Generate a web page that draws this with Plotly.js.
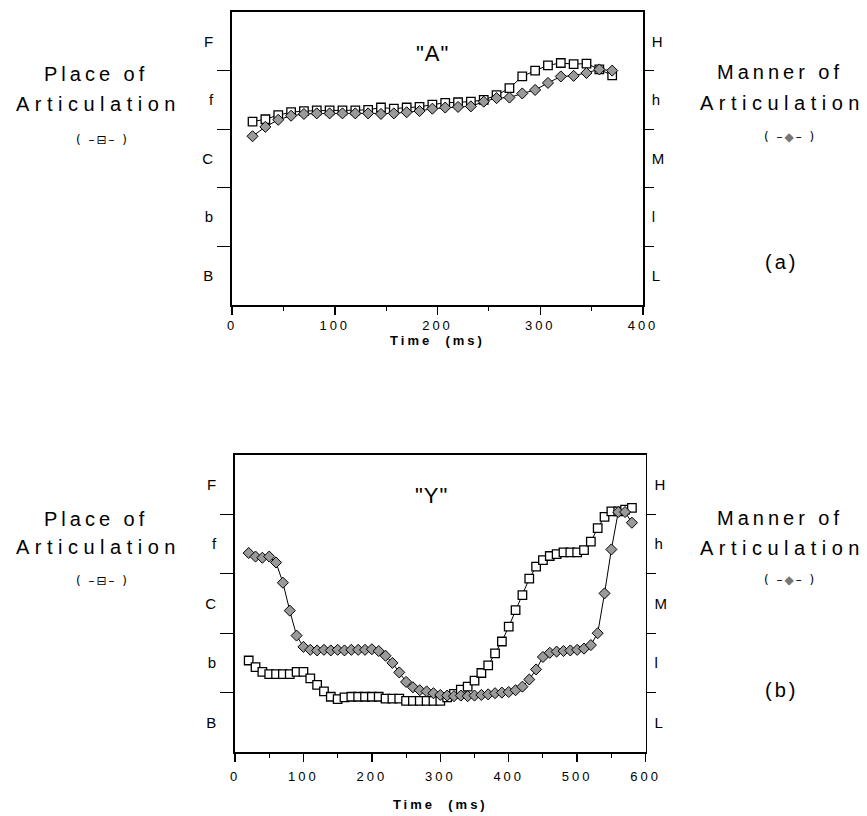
<!DOCTYPE html>
<html>
<head>
<meta charset="utf-8">
<script src="https://cdn.plot.ly/plotly-3.0.1.min.js"></script>
<style>
  html, body { margin: 0; padding: 0; background: #fff; }
  #chart { width: 867px; height: 816px; }
  .xtick text, .x2tick text { letter-spacing: 3px; }
  .xtitle, .x2title { letter-spacing: 3px; }
</style>
</head>
<body>
<div id="chart"></div>
<script>
// ---- Panel (a): "A" ----
const timeA = [20, 32.5, 45, 57.5, 70, 82.5, 95, 107.5, 120, 132.5, 145, 157.5, 170, 182.5, 195,
  207.5, 220, 232.5, 245, 257.5, 270, 282.5, 295, 307.5, 320, 332.5, 345, 357.5, 370];
const placeA = [3.13, 3.17, 3.24, 3.29, 3.31, 3.32, 3.32, 3.32, 3.32, 3.33, 3.37, 3.35, 3.37, 3.38, 3.42,
  3.45, 3.46, 3.47, 3.50, 3.58, 3.70, 3.90, 4.00, 4.09, 4.13, 4.11, 4.12, 4.02, 3.92];
const mannerA = [2.88, 3.04, 3.16, 3.23, 3.26, 3.27, 3.27, 3.27, 3.27, 3.27, 3.26, 3.27, 3.29, 3.31, 3.35,
  3.37, 3.38, 3.39, 3.47, 3.53, 3.54, 3.61, 3.67, 3.79, 3.90, 3.91, 3.96, 4.02, 4.00];

// ---- Panel (b): "Y" ----
const timeY = [20, 30, 40, 50, 60, 70, 80, 90, 100, 110, 120, 130, 140, 150, 160, 170, 180, 190, 200,
  210, 220, 230, 240, 250, 260, 270, 280, 290, 300, 310, 320, 330, 340, 350, 360, 370, 380, 390, 400,
  410, 420, 430, 440, 450, 460, 470, 480, 490, 500, 510, 520, 530, 540, 550, 560, 570, 580];
const placeY = [1.54, 1.43, 1.35, 1.31, 1.31, 1.31, 1.31, 1.35, 1.35, 1.24, 1.13, 1.02, 0.93, 0.89, 0.92,
  0.93, 0.93, 0.93, 0.93, 0.93, 0.90, 0.90, 0.90, 0.86, 0.86, 0.86, 0.86, 0.86, 0.86, 0.92, 0.98, 1.05,
  1.10, 1.20, 1.33, 1.46, 1.66, 1.86, 2.11, 2.39, 2.64, 2.92, 3.12, 3.23, 3.30, 3.33, 3.36, 3.36, 3.36,
  3.40, 3.54, 3.77, 3.96, 4.05, 4.05, 4.08, 4.11];
const mannerY = [3.35, 3.29, 3.27, 3.29, 3.19, 2.85, 2.38, 1.96, 1.77, 1.72, 1.71, 1.72, 1.71, 1.72, 1.71,
  1.72, 1.72, 1.72, 1.73, 1.70, 1.62, 1.50, 1.34, 1.18, 1.09, 1.04, 1.02, 0.99, 0.96, 0.95, 0.94, 0.95,
  0.94, 0.95, 0.96, 0.97, 0.99, 1.00, 1.01, 1.04, 1.10, 1.22, 1.39, 1.60, 1.67, 1.69, 1.70, 1.71, 1.72,
  1.74, 1.80, 2.00, 2.67, 3.41, 4.04, 4.04, 3.86];

// ---- Axis labels ----
const placeLabels = ['B', 'b', 'C', 'f', 'F'];
const mannerLabels = ['L', 'l', 'M', 'h', 'H'];
const bandCenters = [0.5, 1.5, 2.5, 3.5, 4.5];
const bandEdges = [1, 2, 3, 4];
const ticksA = [0, 100, 200, 300, 400];
const minorA = [50, 150, 250, 350];
const ticksY = [0, 100, 200, 300, 400, 500, 600];
const minorY = [50, 150, 250, 350, 450, 550];

const FONT = 'Liberation Sans, Arial, Helvetica, sans-serif';

function squareTrace(x, y, xa, ya) {
  return {
    x: x, y: y, xaxis: xa, yaxis: ya, type: 'scatter', mode: 'lines+markers',
    line: { color: '#000', width: 1 },
    marker: { symbol: 'square', size: 8.5, color: '#fff', line: { color: '#000', width: 1.3 } },
    showlegend: false, hoverinfo: 'skip'
  };
}
function diamondTrace(x, y, xa, ya) {
  return {
    x: x, y: y, xaxis: xa, yaxis: ya, type: 'scatter', mode: 'lines+markers',
    line: { color: '#000', width: 1 },
    marker: { symbol: 'diamond', size: 8.5, color: '#9a9a9a', line: { color: '#000', width: 1 } },
    showlegend: false, hoverinfo: 'skip'
  };
}

const data = [
  squareTrace(timeA, placeA, 'x', 'y'),
  diamondTrace(timeA, mannerA, 'x', 'y3'),
  squareTrace(timeY, placeY, 'x2', 'y2'),
  diamondTrace(timeY, mannerY, 'x2', 'y4')
];

function xAxis(domain, anchor, range, tv, mv, standoff, labelOff) {
  return {
    domain: domain, anchor: anchor, range: range,
    tickmode: 'array', tickvals: tv, ticktext: tv.map(String),
    ticks: 'outside', ticklen: 8, tickwidth: 1.5, tickcolor: '#000',
    ticklabelstandoff: labelOff,
    minor: { tickmode: 'array', tickvals: mv, ticks: 'outside', ticklen: 4, tickwidth: 1, tickcolor: '#000' },
    showline: true, linecolor: '#000', linewidth: 1.8, mirror: true,
    showgrid: false, zeroline: false, fixedrange: true,
    tickfont: { family: FONT, size: 13, color: '#000' },
    title: { text: 'Time\u00a0\u00a0(ms)', standoff: standoff, font: { family: FONT, size: 13, color: '#000', weight: 'bold' } }
  };
}
function leftAxis(domain, anchor) {
  return {
    domain: domain, anchor: anchor, range: [0, 5],
    tickmode: 'array', tickvals: bandCenters, ticktext: placeLabels,
    ticks: 'outside', ticklen: 14, tickcolor: 'rgba(0,0,0,0)',
    minor: { tickmode: 'array', tickvals: bandEdges, ticks: 'outside', ticklen: 13, tickwidth: 1.2, tickcolor: '#000' },
    showline: true, linecolor: '#000', linewidth: 1.8,
    showgrid: false, zeroline: false, fixedrange: true,
    tickfont: { family: FONT, size: 15, color: '#000' }
  };
}
function rightAxis(over, anchor) {
  return {
    overlaying: over, side: 'right', anchor: anchor, range: [0, 5],
    tickmode: 'array', tickvals: bandCenters, ticktext: mannerLabels,
    ticks: 'outside', ticklen: 4, tickcolor: 'rgba(0,0,0,0)',
    minor: { tickmode: 'array', tickvals: bandEdges, ticks: 'outside', ticklen: 9, tickwidth: 1.2, tickcolor: '#000' },
    showline: true, linecolor: '#000', linewidth: 1.8,
    showgrid: false, zeroline: false, fixedrange: true,
    tickfont: { family: FONT, size: 15, color: '#000' }
  };
}

function ann(text, x, y, size, spacing, extra) {
  return Object.assign({
    xref: 'paper', yref: 'paper', x: x, y: y, xanchor: 'center', yanchor: 'middle',
    showarrow: false,
    text: spacing ? '<span style="letter-spacing:' + spacing + 'px">' + text + '</span>' : text,
    font: { family: FONT, size: size, color: '#000' }
  }, extra || {});
}

const W = 867, H = 816;
const px = v => v / W, py = v => 1 - v / H;
const sqKey = '(\u00a0\u2013\u229f\u2013\u00a0)';
const dmKey = '(\u00a0\u2013<span style="color:#777">\u25c6</span>\u2013\u00a0)';
const keyFont = { family: 'DejaVu Sans, sans-serif', size: 12, color: '#000' };

const annotations = [
  ann('Place of', px(96), py(74), 20, 4),
  ann('Articulation', px(98), py(104), 20, 5.5),
  ann(sqKey, px(102), py(140), 12, 2, { font: keyFont }),
  ann('Manner of', px(780), py(72), 20, 4),
  ann('Articulation', px(782), py(103), 20, 5.5),
  ann(dmKey, px(790), py(137), 12, 2, { font: keyFont }),
  ann('(a)', px(781), py(262), 20, 3),
  ann('"A"', px(432), py(54), 22, 1),

  ann('Place of', px(96), py(519), 20, 4),
  ann('Articulation', px(98), py(547), 20, 5.5),
  ann(sqKey, px(102), py(581), 12, 2, { font: keyFont }),
  ann('Manner of', px(780), py(518), 20, 4),
  ann('Articulation', px(782), py(548), 20, 5.5),
  ann(dmKey, px(790), py(580), 12, 2, { font: keyFont }),
  ann('(b)', px(781), py(690), 20, 3),
  ann('"Y"', px(431), py(496), 22, 1)
];

const layout = {
  width: W, height: H,
  margin: { l: 0, r: 0, t: 0, b: 0 },
  paper_bgcolor: '#fff', plot_bgcolor: '#fff',
  showlegend: false,
  font: { family: FONT, color: '#000' },
  xaxis: xAxis([px(232), px(643)], 'y', [0, 400], ticksA, minorA, 3, 0),
  yaxis: leftAxis([py(305), py(12)], 'x'),
  yaxis3: rightAxis('y', 'x'),
  xaxis2: xAxis([px(235), px(645.6)], 'y2', [0, 600], ticksY, minorY, 16, 4),
  yaxis2: leftAxis([py(752), py(455)], 'x2'),
  yaxis4: rightAxis('y2', 'x2'),
  annotations: annotations
};

Plotly.newPlot('chart', data, layout, { displayModeBar: false, staticPlot: true });
</script>
</body>
</html>
